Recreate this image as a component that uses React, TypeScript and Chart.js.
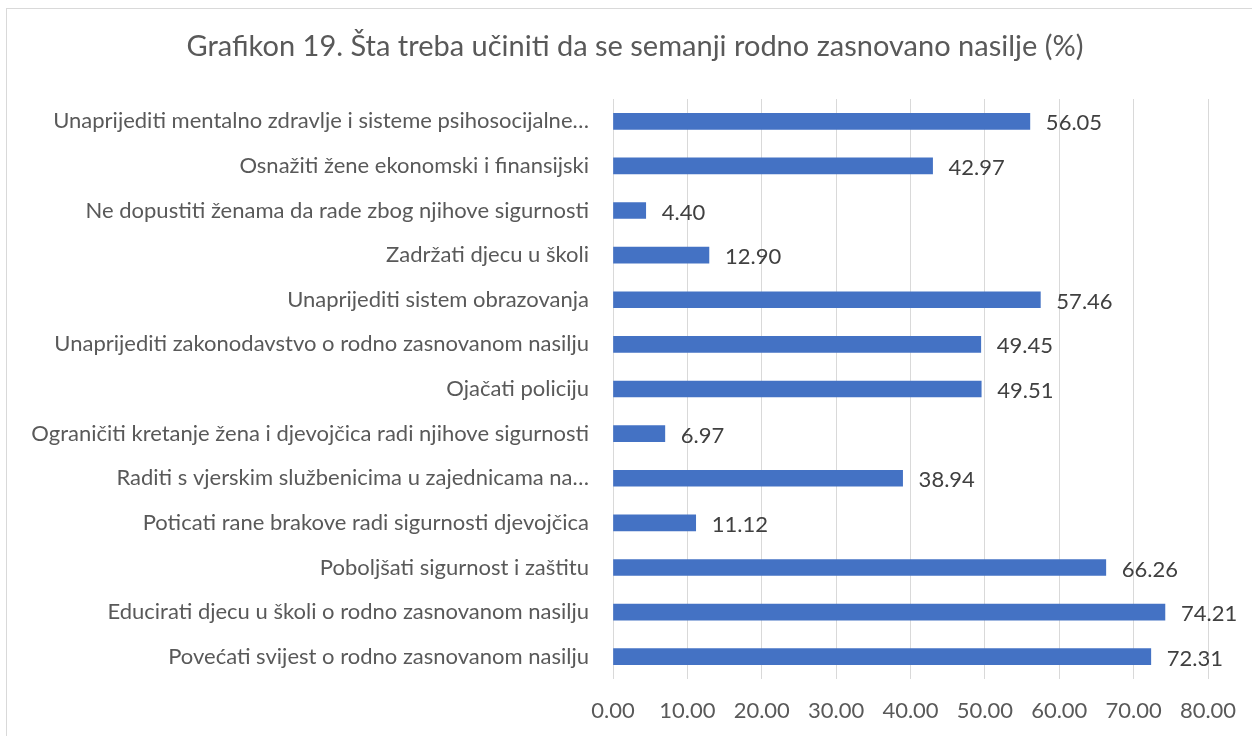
import React, { useEffect, useRef } from "react";
import { Chart, registerables } from "chart.js";

Chart.register(...registerables);

const TITLE = "Grafikon 19. Šta treba učiniti da se semanji rodno zasnovano nasilje (%)";

const categories = [
  "Unaprijediti mentalno zdravlje i sisteme psihosocijalne…",
  "Osnažiti žene ekonomski i finansijski",
  "Ne dopustiti ženama da rade zbog njihove sigurnosti",
  "Zadržati djecu u školi",
  "Unaprijediti sistem obrazovanja",
  "Unaprijediti zakonodavstvo o rodno zasnovanom nasilju",
  "Ojačati policiju",
  "Ograničiti kretanje žena i djevojčica radi njihove sigurnosti",
  "Raditi s vjerskim službenicima u zajednicama na…",
  "Poticati rane brakove radi sigurnosti djevojčica",
  "Poboljšati sigurnost i zaštitu",
  "Educirati djecu u školi o rodno zasnovanom nasilju",
  "Povećati svijest o rodno zasnovanom nasilju",
];

const values = [56.05, 42.97, 4.4, 12.9, 57.46, 49.45, 49.51, 6.97, 38.94, 11.12, 66.26, 74.21, 72.31];

const FONT = "Lato, 'Open Sans', sans-serif";
const TEXT = "#595959";

const valueLabels = {
  id: "valueLabels",
  afterDatasetsDraw(chart: any) {
    const ctx = chart.ctx;
    const meta = chart.getDatasetMeta(0);
    ctx.save();
    ctx.font = `22px ${FONT}`;
    ctx.fillStyle = "#404040";
    ctx.textAlign = "left";
    ctx.textBaseline = "middle";
    meta.data.forEach((bar: any, i: number) => {
      ctx.fillText(values[i].toFixed(2), bar.x + 16, bar.y + 2);
    });
    ctx.restore();
  },
};

const titlePlugin = {
  id: "titleText",
  afterDraw(chart: any) {
    const ctx = chart.ctx;
    ctx.save();
    ctx.font = `29px ${FONT}`;
    ctx.fillStyle = TEXT;
    ctx.textAlign = "center";
    ctx.textBaseline = "middle";
    ctx.fillText(TITLE, 635, 47);
    ctx.restore();
  },
};

export default function App() {
  const ref = useRef<HTMLCanvasElement>(null);
  useEffect(() => {
    if (!ref.current) return;
    const chart = new Chart(ref.current, {
      type: "bar",
      data: {
        labels: categories,
        datasets: [
          {
            data: values,
            backgroundColor: "#4472C4",
            barThickness: 16,
          },
        ],
      },
      options: {
        indexAxis: "y",
        animation: false,
        responsive: false,
        layout: { padding: { left: 0, right: 44, top: 99, bottom: 0 } },
        plugins: {
          legend: { display: false },
          tooltip: { enabled: false },
          title: { display: false },
        },
        scales: {
          x: {
            min: 0,
            max: 80,
            ticks: {
              stepSize: 10,
              color: TEXT,
              font: { family: FONT, size: 22 },
              padding: 19,
              maxRotation: 0,
              callback: (v: any) => Number(v).toFixed(2),
            },
            grid: { color: "#d9d9d9", drawTicks: false, lineWidth: 1 },
            border: { display: false },
            afterFit: (s: any) => {
              s.height = 57;
              s.paddingLeft = 0;
              s.paddingRight = 0;
            },
          },
          y: {
            ticks: {
              color: TEXT,
              font: { family: FONT, size: 22 },
              padding: 24,
              autoSkip: false,
            },
            grid: { display: false, drawTicks: false },
            border: { display: false },
            afterFit: (s: any) => {
              s.width = 613;
              s.paddingTop = 0;
              s.paddingBottom = 0;
            },
          },
        },
      },
      plugins: [valueLabels, titlePlugin],
    });
    return () => chart.destroy();
  }, []);
  return (
    <div style={{ position: "absolute", left: 0, top: 0, width: 1252, height: 736, overflow: "hidden", background: "#fff" }}>
      <div
        style={{
          position: "absolute",
          left: 6,
          top: 8,
          width: 1300,
          height: 800,
          border: "1px solid #d9d9d9",
        }}
      />
      <canvas ref={ref} width={1252} height={736} style={{ position: "absolute", left: 0, top: 0 }} />
    </div>
  );
}
